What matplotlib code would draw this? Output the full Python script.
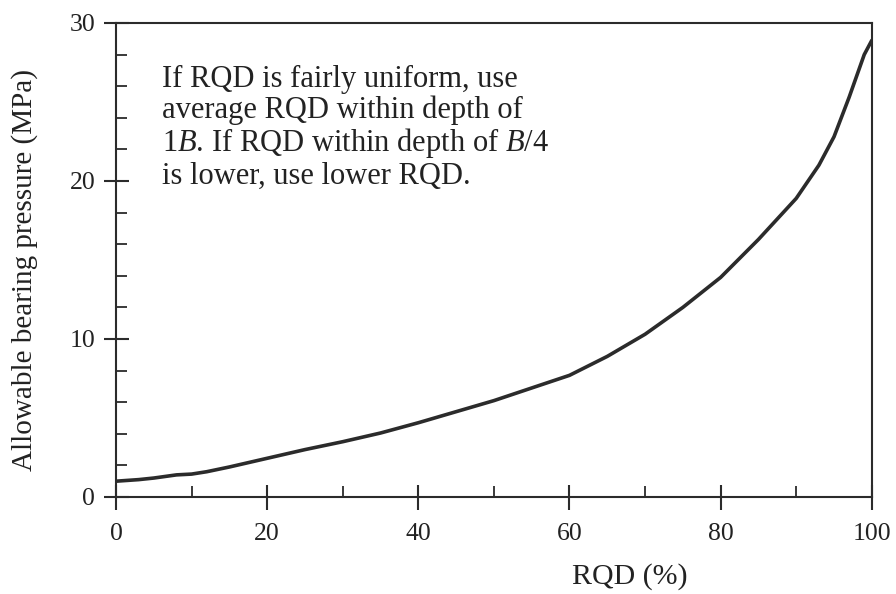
import numpy as np
import matplotlib
matplotlib.use('Agg')
import matplotlib.pyplot as plt
from matplotlib.ticker import MultipleLocator

plt.rcParams['font.family'] = ['Liberation Serif', 'DejaVu Serif']
plt.rcParams['mathtext.fontset'] = 'custom'
plt.rcParams['mathtext.rm'] = 'Liberation Serif'
plt.rcParams['mathtext.it'] = 'Liberation Serif:italic'

# curve
rqd = [0, 3, 5, 8, 10, 12, 15, 20, 25, 30, 35, 40, 45, 50, 55, 60, 65, 70,
       75, 80, 85, 90, 93, 95, 97, 99, 100]
pressure = [1.0, 1.1, 1.2, 1.4, 1.45, 1.6, 1.9, 2.45, 3.0, 3.5, 4.05, 4.7,
            5.4, 6.1, 6.9, 7.7, 8.9, 10.3, 12.0, 13.9, 16.3, 18.9, 21.0,
            22.8, 25.3, 28.0, 28.9]

xticks = [0, 20, 40, 60, 80, 100]
yticks = [0, 10, 20, 30]
note = ('If RQD is fairly uniform, use\n'
        'average RQD within depth of\n'
        '1$B$. If RQD within depth of $B$/4\n'
        'is lower, use lower RQD.')

ink = '#2b2b2b'
txt = '#222222'

fig = plt.figure(figsize=(8.96, 5.94), dpi=100)
ax = fig.add_axes([0.1295, 0.1633, 0.8435, 0.798])

ax.plot(rqd, pressure, color=ink, lw=2.6, solid_capstyle='round')

ax.set_xlim(0, 100)
ax.set_ylim(0, 30)
ax.set_xticks(xticks)
ax.set_yticks(yticks)
ax.xaxis.set_minor_locator(MultipleLocator(10))
ax.yaxis.set_minor_locator(MultipleLocator(2))

for s in ['top', 'right', 'left', 'bottom']:
    ax.spines[s].set_color(ink)
    ax.spines[s].set_linewidth(1.5)

ax.tick_params(which='major', direction='inout', length=18, width=1.5,
               color=ink, labelsize=18.5, labelcolor=txt)
ax.tick_params(axis='x', which='major', pad=10)
ax.tick_params(axis='y', which='major', pad=6)
ax.tick_params(which='minor', direction='in', length=8, width=1.3, color=ink)
ax.tick_params(axis='x', which='both', top=False)
ax.tick_params(axis='y', which='both', right=False)

ax.set_xlabel('RQD (%)', fontsize=21.5, color=txt)
ax.set_ylabel('Allowable bearing pressure (MPa)', fontsize=21, color=txt)
ax.xaxis.set_label_coords(0.68, -0.14)
ax.yaxis.set_label_coords(-0.103, 0.478)

ax.text(6.1, 27.35, note, fontsize=22, color=txt, va='top', ha='left',
        linespacing=1.06)

fig.savefig('out.png', dpi=100, facecolor='white')
